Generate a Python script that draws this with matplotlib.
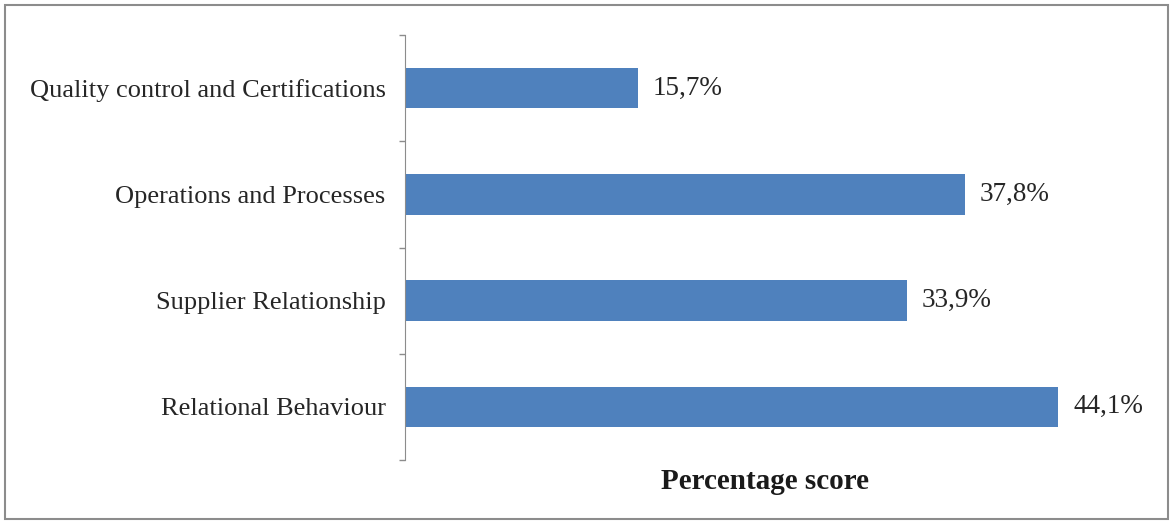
import numpy as np
from matplotlib import pyplot as plt
from matplotlib.patches import Rectangle

# data (bottom to top)
categories = ['Relational Behaviour', 'Supplier Relationship',
              'Operations and Processes', 'Quality control and Certifications']
scores = [44.1, 33.9, 37.8, 15.7]

plt.rcParams['font.family'] = ['Liberation Serif', 'DejaVu Serif']

W, H = 1173, 524
fig = plt.figure(figsize=(W / 100, H / 100), dpi=100)
ax = fig.add_axes([405 / W, 1 - 460 / H, 720 / W, 425 / H])

y = np.arange(len(categories))
ax.barh(y, scores, height=0.38, color='#4F81BD')

for yi, v in zip(y, scores):
    ax.text(v + 1.0, yi, f'{v:.1f}%'.replace('.', ','), va='center', ha='left',
            fontsize=19.5, color='#262626')

ax.set_xlim(0, 48.6)
ax.set_ylim(-0.5, len(categories) - 0.5)

# category labels, no tick marks at the labels
ax.set_yticks(y)
ax.set_yticklabels(categories, fontsize=19, color='#262626')
ax.tick_params(axis='y', which='major', length=0, pad=14)
# tick marks at the boundaries between categories
ax.set_yticks(np.arange(-0.5, len(categories), 1), minor=True)
ax.tick_params(axis='y', which='minor', length=4, width=1, color='#8c8c8c', direction='out')

ax.set_xticks([])
for side in ['top', 'right', 'bottom']:
    ax.spines[side].set_visible(False)
ax.spines['left'].set_color('#8c8c8c')

ax.set_xlabel('Percentage score', fontsize=21, fontweight='bold', color='#1a1a1a', labelpad=6)

# border around the whole chart
fig.patches.append(Rectangle((5 / W, 5 / H), 1 - 10 / W, 1 - 10 / H,
                             transform=fig.transFigure, fill=False,
                             edgecolor='#8c8c8c', linewidth=1.5))

fig.savefig('out.png', dpi=100)
